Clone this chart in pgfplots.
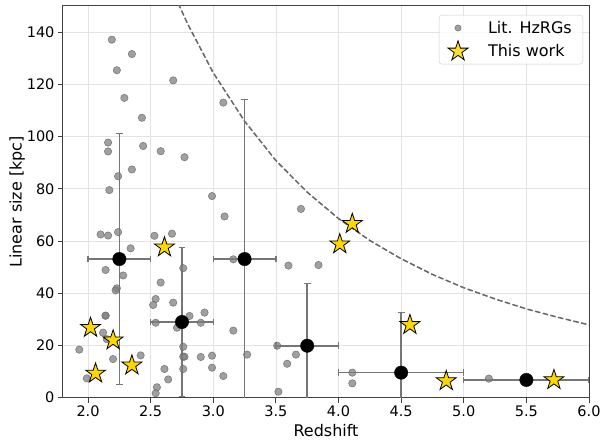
\documentclass[border=0pt]{standalone}
\usepackage{pgfplots}
\pgfplotsset{compat=1.18}
\usepackage{fontspec}
\setmainfont{DejaVu Sans}
\definecolor{gold}{HTML}{FFD700}
\definecolor{ptgray}{HTML}{808080}
\definecolor{errgray}{HTML}{767676}
\definecolor{spine}{HTML}{404040}
\pgfdeclareplotmark{fstar}{%
  \pgfpathmoveto{\pgfpointpolar{90}{\pgfplotmarksize}}%
  \pgfpathlineto{\pgfpointpolar{126}{0.381966\pgfplotmarksize}}%
  \pgfpathlineto{\pgfpointpolar{162}{\pgfplotmarksize}}%
  \pgfpathlineto{\pgfpointpolar{198}{0.381966\pgfplotmarksize}}%
  \pgfpathlineto{\pgfpointpolar{234}{\pgfplotmarksize}}%
  \pgfpathlineto{\pgfpointpolar{270}{0.381966\pgfplotmarksize}}%
  \pgfpathlineto{\pgfpointpolar{306}{\pgfplotmarksize}}%
  \pgfpathlineto{\pgfpointpolar{342}{0.381966\pgfplotmarksize}}%
  \pgfpathlineto{\pgfpointpolar{18}{\pgfplotmarksize}}%
  \pgfpathlineto{\pgfpointpolar{54}{0.381966\pgfplotmarksize}}%
  \pgfpathclose
  \pgfusepathqfillstroke
}
\pgfplotstableread{
x y
2.19 137.1
2.35 131.6
2.23 125.4
2.68 121.5
2.29 114.8
3.08 113.0
2.43 107.2
2.16 97.7
2.16 94.3
2.44 96.4
2.58 94.4
2.77 92.1
2.24 84.8
2.35 87.4
2.17 79.5
2.99 77.2
3.09 69.4
2.10 62.5
2.16 62.1
2.24 63.4
2.53 62.0
2.67 62.8
2.34 57.2
3.16 53.0
2.14 48.9
2.28 46.8
2.76 49.6
2.58 44.1
2.23 41.9
2.22 41.1
2.54 37.8
2.52 35.5
2.68 36.4
2.14 31.4
2.14 31.4
2.81 31.3
2.93 32.6
2.54 28.7
2.90 28.7
2.71 26.8
2.12 24.9
2.15 22.4
3.16 25.7
1.93 18.4
2.76 19.5
2.20 14.8
2.42 16.2
2.76 15.7
2.77 15.7
2.90 15.6
2.99 16.1
3.27 16.5
2.76 11.0
2.61 11.0
2.99 11.5
1.99 7.4
2.64 7.0
3.08 8.3
2.55 4.0
2.54 1.7
3.70 72.3
3.60 50.6
3.84 50.8
3.51 19.9
3.66 16.5
3.59 13.0
3.52 2.3
4.11 9.6
4.11 5.5
5.20 7.3
}\littab
\pgfplotstableread{
x y
2.02 26.8
2.20 22.0
2.06 9.3
2.35 12.4
2.61 57.6
4.11 66.6
4.01 58.8
4.57 27.9
4.86 6.4
5.72 6.8
}\thistab
\pgfplotstableread{
x y ex ey
2.25 53.1 0.25 48.0
2.75 29.0 0.25 28.4
3.25 53.1 0.25 61.2
3.75 19.9 0.25 23.7
4.50 9.6 0.50 23.1
5.50 6.8 0.50 0.0
}\bintab
\begin{document}
\begin{tikzpicture}
\begin{axis}[
  scale only axis,
  width=526pt, height=391.7pt,
  xmin=1.8, xmax=6.0, ymin=0, ymax=150,
  xtick={2.0,2.5,3.0,3.5,4.0,4.5,5.0,5.5,6.0},
  ytick={0,20,40,60,80,100,120,140},
  xticklabel style={/pgf/number format/.cd, fixed, fixed zerofill, precision=1},
  /pgf/number format/assume math mode=true,
  ticklabel style={font=\fontsize{14.5}{17}\selectfont, text=black},
  label style={font=\fontsize{16}{19}\selectfont},
  xlabel={Redshift}, ylabel={Linear size [kpc]},
  ylabel style={yshift=-5pt},
  grid=major,
  major grid style={color=black!11, line width=0.8pt},
  axis line style={color=spine, line width=1pt},
  tick style={color=spine, line width=1pt},
  tick align=outside, major tick length=5pt,
  xtick pos=bottom, ytick pos=left,
  clip=true,
  legend cell align=left,
  legend style={at={(1,1)}, anchor=north east, xshift=-6pt, yshift=-9pt,
    draw=black!20, rounded corners=3pt, fill=white, fill opacity=0.8, text opacity=1,
    font=\fontsize{16}{19}\selectfont, row sep=4pt, inner xsep=9pt, inner ysep=4pt,
    /tikz/every odd column/.append style={column sep=18pt}},
]
\addplot[color=black!60, line width=1.5pt, dash pattern=on 5.5pt off 2.4pt, forget plot]
  coordinates {(2.72,151.0) (2.8,142.7) (3.0,124.4) (3.25,105.9) (3.5,90.8) (3.75,78.7)
  (4.0,68.6) (4.25,60.2) (4.5,53.2) (4.75,47.2) (5.0,42.1) (5.25,37.8) (5.5,34.0)
  (5.75,30.8) (6.0,27.9)};
\addplot[only marks, mark=none, forget plot, color=errgray, line width=1.6pt,
  error bars/.cd, x dir=both, x explicit, y dir=both, y explicit,
  error bar style={color=errgray, line width=1.6pt},
  error mark options={color=errgray, line width=1.2pt, mark size=3.4pt, rotate=90}]
  table[x=x, y=y, x error=ex, y error=ey] {\bintab};
\addplot[only marks, mark=*, mark size=3.7pt,
  mark options={fill=ptgray, draw=black!60, line width=0.6pt, opacity=0.75},
  legend image post style={mark size=3.1pt}]
  table[x=x, y=y] {\littab};
\addlegendentry{Lit. HzRGs}
\addplot[only marks, mark=*, mark size=6.7pt, mark options={fill=black, draw=black}, forget plot]
  table[x=x, y=y] {\bintab};
\addplot[only marks, mark=fstar, mark size=10.5pt,
  mark options={fill=gold, draw=black, line width=0.8pt}]
  table[x=x, y=y] {\thistab};
\addlegendentry{This work}
\end{axis}
\pgfresetboundingbox
\path ([xshift=-63pt,yshift=-43.3pt]current axis.south west) rectangle ([xshift=12pt,yshift=6pt]current axis.north east);
\end{tikzpicture}
\end{document}
